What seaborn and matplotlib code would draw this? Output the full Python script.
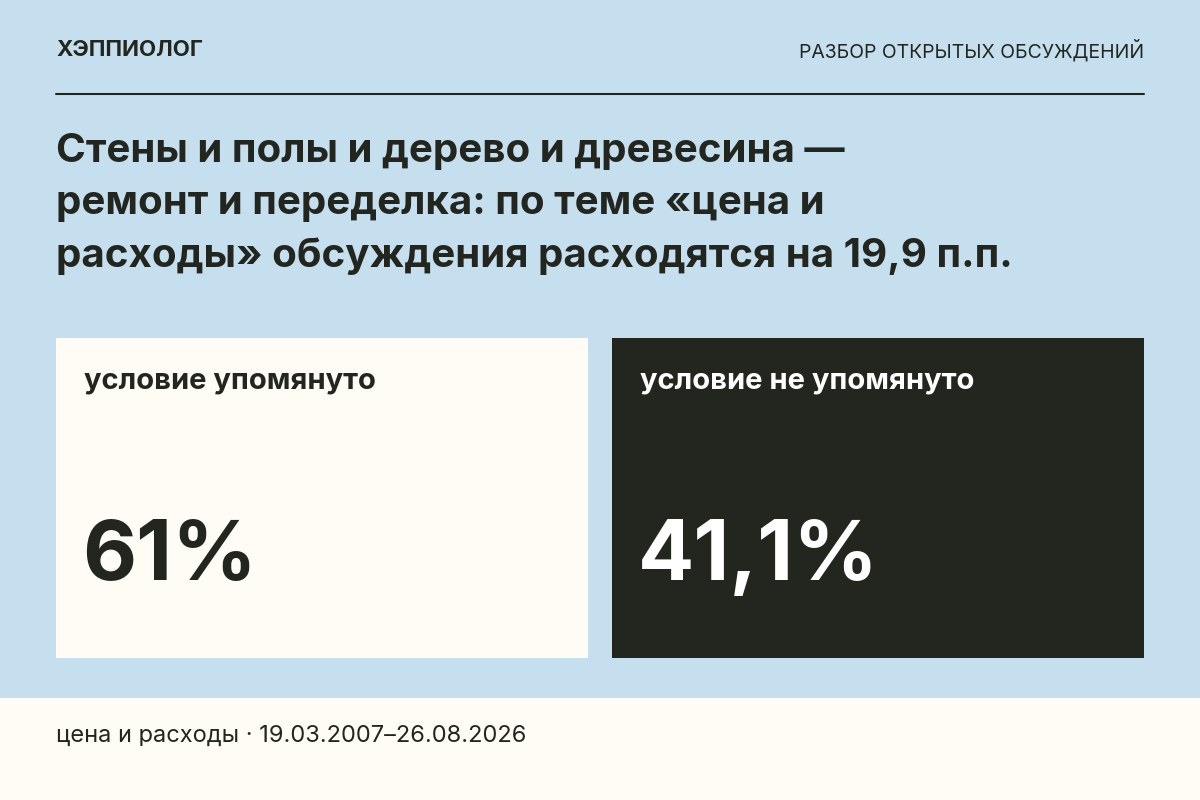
import matplotlib.pyplot as plt
import seaborn as sns
from matplotlib.patches import Rectangle

sns.set_theme(style="white")
plt.rcParams['font.family'] = ['Inter', 'Liberation Sans', 'DejaVu Sans']

brand = "ХЭППИОЛОГ"
section = "РАЗБОР ОТКРЫТЫХ ОБСУЖДЕНИЙ"
title_lines = ["Стены и полы и дерево и древесина —",
               "ремонт и переделка: по теме «цена и",
               "расходы» обсуждения расходятся на 19,9 п.п."]
labels = ["условие упомянуто", "условие не упомянуто"]
values = [61, 41.1]
value_texts = ["61%", "41,1%"]
footer = "цена и расходы · 19.03.2007–26.08.2026"

BG = "#c6dfee"
CREAM = "#fefcf5"
DARK = "#22261f"
W, H = 1200, 800

fig = plt.figure(figsize=(12, 8), dpi=100, facecolor=BG)

def px(x, y):
    return x / W, 1 - y / H

# footer band
fig.patches.append(Rectangle((0, 0), 1, 102 / H, transform=fig.transFigure,
                             facecolor=CREAM, edgecolor="none", zorder=0))

fig.text(*px(56, 50), brand, fontsize=16, fontweight="bold", color=DARK, va="center")
fig.text(*px(1144, 50), section, fontsize=14, color=DARK, va="center", ha="right")
fig.add_artist(plt.Line2D([56 / W, 1144 / W], [1 - 94 / H] * 2, color=DARK, lw=1.5,
                          transform=fig.transFigure))
for i, line in enumerate(title_lines):
    fig.text(*px(56, 152 + i * 52), line, fontsize=29, fontweight="bold", color=DARK, va="center")

card_x = [56, 612]
for i, (lab, v, vt) in enumerate(zip(labels, values, value_texts)):
    x0 = card_x[i]
    ax = fig.add_axes([x0 / W, 1 - 658 / H, 532 / W, 320 / H])
    face = CREAM if i == 0 else DARK
    fg = DARK if i == 0 else "white"
    ax.set_facecolor(face)
    ax.set_xticks([]); ax.set_yticks([])
    for s in ax.spines.values():
        s.set_visible(False)
    ax.set_xlim(0, 532); ax.set_ylim(320, 0)
    ax.text(28, 43, lab, fontsize=21, fontweight="bold", color=fg, va="center")
    ax.text(26, 220, vt, fontsize=60, fontweight="bold", color=fg, va="center")

fig.text(*px(56, 736), footer, fontsize=17, color=DARK, va="center")

fig.savefig("out.png", dpi=100, facecolor=BG)
